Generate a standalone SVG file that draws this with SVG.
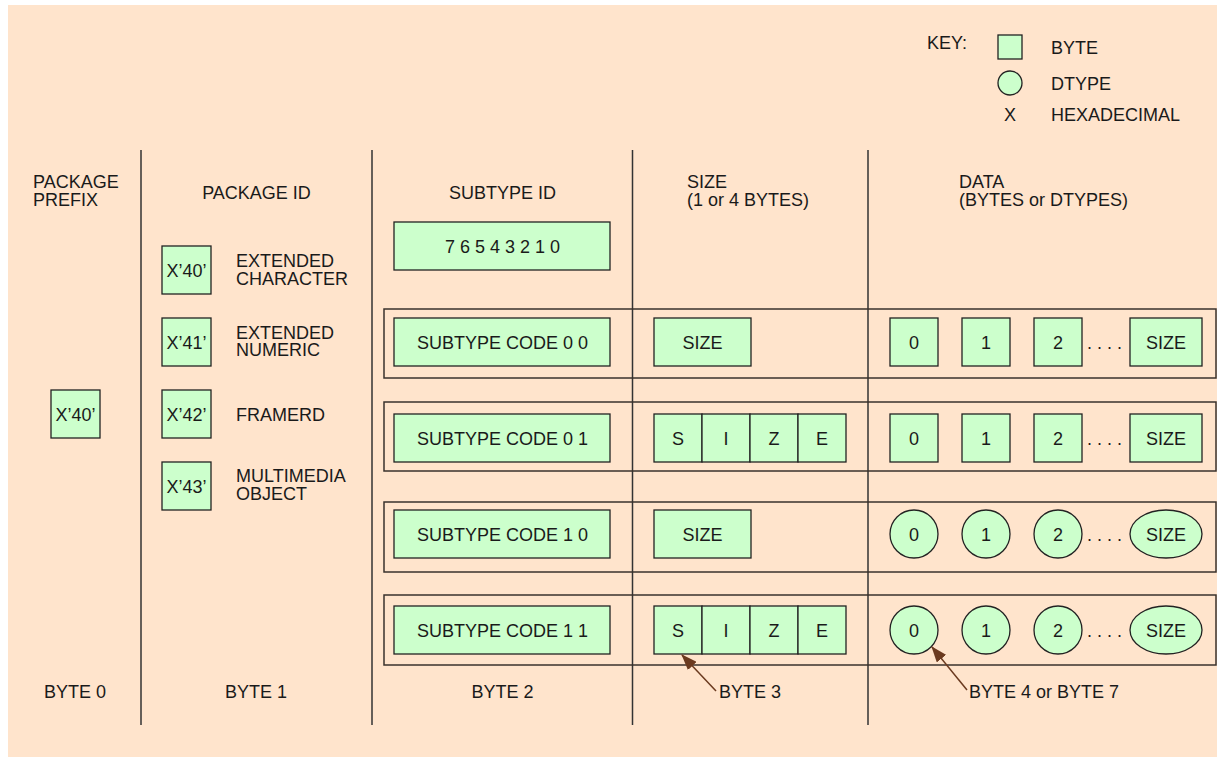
<svg xmlns="http://www.w3.org/2000/svg" width="1217" height="757" viewBox="0 0 1217 757">
<style>
.t{font-family:"Liberation Sans",Arial,sans-serif;font-size:18px;fill:#1a1a1a}
.c{text-anchor:middle}
.b{fill:#ccffcc;stroke:#222;stroke-width:1.3}
.f{fill:none;stroke:#3a322c;stroke-width:1.5}
.d{stroke:#333;stroke-width:1.5}
.a{stroke:#6b3a1f;stroke-width:1.5;fill:none;marker-end:url(#ah)}
</style>
<defs>
<marker id="ah" markerWidth="16" markerHeight="12" refX="15" refY="6" orient="auto" markerUnits="userSpaceOnUse">
<path d="M0,0 L16,6 L0,12 Z" fill="#6b3a1f"/>
</marker>
</defs>
<rect x="8" y="5" width="1209" height="752" fill="#ffe4cc"/>

<g id="key">
<text class="t" x="927" y="49">KEY:</text>
<rect class="b" x="998" y="35" width="24" height="24"/>
<text class="t" x="1051" y="54">BYTE</text>
<circle class="b" cx="1010" cy="83" r="12"/>
<text class="t" x="1051" y="90">DTYPE</text>
<text class="t c" x="1010" y="121">X</text>
<text class="t" x="1051" y="121">HEXADECIMAL</text>
</g>

<g id="dividers">
<line class="d" x1="141" y1="150" x2="141" y2="725"/>
<line class="d" x1="372" y1="150" x2="372" y2="725"/>
<line class="d" x1="632.5" y1="150" x2="632.5" y2="725" stroke="#111"/>
<line class="d" x1="868" y1="150" x2="868" y2="725" stroke="#111"/>
</g>

<g id="headers">
<text class="t" x="33" y="188">PACKAGE<tspan x="33" dy="17.5">PREFIX</tspan></text>
<text class="t c" x="256.5" y="199">PACKAGE ID</text>
<text class="t c" x="502.5" y="199">SUBTYPE ID</text>
<text class="t" x="687" y="188">SIZE<tspan x="687" dy="17.5">(1 or 4 BYTES)</tspan></text>
<text class="t" x="959" y="188">DATA<tspan x="959" dy="17.5">(BYTES or DTYPES)</tspan></text>
</g>

<g id="package-prefix">
<rect class="b" x="51" y="390" width="49" height="48"/>
<text class="t c" x="75.5" y="421">X’40’</text>
</g>

<g id="package-id-40">
<rect class="b" x="162" y="246" width="49" height="48"/>
<text class="t c" x="186.5" y="277">X’40’</text>
<text class="t" x="236" y="267">EXTENDED<tspan x="236" dy="17.5">CHARACTER</tspan></text>
</g>
<g id="package-id-41">
<rect class="b" x="162" y="318" width="49" height="48"/>
<text class="t c" x="186.5" y="349">X’41’</text>
<text class="t" x="236" y="338.5">EXTENDED<tspan x="236" dy="17.5">NUMERIC</tspan></text>
</g>
<g id="package-id-42">
<rect class="b" x="162" y="390" width="49" height="48"/>
<text class="t c" x="186.5" y="421">X’42’</text>
<text class="t" x="236" y="421">FRAMERD</text>
</g>
<g id="package-id-43">
<rect class="b" x="162" y="462" width="49" height="48"/>
<text class="t c" x="186.5" y="493">X’43’</text>
<text class="t" x="236" y="482">MULTIMEDIA<tspan x="236" dy="17.5">OBJECT</tspan></text>
</g>

<g id="subtype-id">
<rect class="b" x="394" y="222" width="216" height="48"/>
<text class="t c" x="502.5" y="253">7 6 5 4 3 2 1 0</text>
</g>

<g id="row-00">
<rect class="f" x="384" y="309" width="832" height="69"/>
<rect class="b" x="394" y="318" width="216" height="48"/>
<text class="t c" x="502.5" y="349">SUBTYPE CODE 0 0</text>
<rect class="b" x="654" y="318" width="97" height="48"/>
<text class="t c" x="702.5" y="349">SIZE</text>
<rect class="b" x="890" y="318" width="48" height="48"/>
<text class="t c" x="914" y="349">0</text>
<rect class="b" x="962" y="318" width="48" height="48"/>
<text class="t c" x="986" y="349">1</text>
<rect class="b" x="1034" y="318" width="48" height="48"/>
<text class="t c" x="1058" y="349">2</text>
<text class="t" x="1087" y="349">. . . .</text>
<rect class="b" x="1130" y="318" width="72" height="48"/>
<text class="t c" x="1166" y="349">SIZE</text>
</g>

<g id="row-01">
<rect class="f" x="384" y="402" width="832" height="69" stroke="#222"/>
<rect class="b" x="394" y="414" width="216" height="48"/>
<text class="t c" x="502.5" y="445">SUBTYPE CODE 0 1</text>
<rect class="b" x="654" y="414" width="48" height="48"/>
<rect class="b" x="702" y="414" width="48" height="48"/>
<rect class="b" x="750" y="414" width="48" height="48"/>
<rect class="b" x="798" y="414" width="48" height="48"/>
<text class="t c" x="678" y="445">S</text>
<text class="t c" x="726" y="445">I</text>
<text class="t c" x="774" y="445">Z</text>
<text class="t c" x="822" y="445">E</text>
<rect class="b" x="890" y="414" width="48" height="48"/>
<text class="t c" x="914" y="445">0</text>
<rect class="b" x="962" y="414" width="48" height="48"/>
<text class="t c" x="986" y="445">1</text>
<rect class="b" x="1034" y="414" width="48" height="48"/>
<text class="t c" x="1058" y="445">2</text>
<text class="t" x="1087" y="445">. . . .</text>
<rect class="b" x="1130" y="414" width="72" height="48"/>
<text class="t c" x="1166" y="445">SIZE</text>
</g>

<g id="row-10">
<rect class="f" x="384" y="502" width="832" height="70" stroke="#222"/>
<rect class="b" x="394" y="510" width="216" height="48"/>
<text class="t c" x="502.5" y="541">SUBTYPE CODE 1 0</text>
<rect class="b" x="654" y="510" width="97" height="48"/>
<text class="t c" x="702.5" y="541">SIZE</text>
<circle class="b" cx="914" cy="534" r="24"/>
<text class="t c" x="914" y="541">0</text>
<circle class="b" cx="986" cy="534" r="24"/>
<text class="t c" x="986" y="541">1</text>
<circle class="b" cx="1058" cy="534" r="24"/>
<text class="t c" x="1058" y="541">2</text>
<text class="t" x="1087" y="541">. . . .</text>
<ellipse class="b" cx="1166" cy="534" rx="36" ry="24"/>
<text class="t c" x="1166" y="541">SIZE</text>
</g>

<g id="row-11">
<rect class="f" x="384" y="595" width="832" height="70"/>
<rect class="b" x="394" y="606" width="216" height="48"/>
<text class="t c" x="502.5" y="637">SUBTYPE CODE 1 1</text>
<rect class="b" x="654" y="606" width="48" height="48"/>
<rect class="b" x="702" y="606" width="48" height="48"/>
<rect class="b" x="750" y="606" width="48" height="48"/>
<rect class="b" x="798" y="606" width="48" height="48"/>
<text class="t c" x="678" y="637">S</text>
<text class="t c" x="726" y="637">I</text>
<text class="t c" x="774" y="637">Z</text>
<text class="t c" x="822" y="637">E</text>
<circle class="b" cx="914" cy="630" r="24"/>
<text class="t c" x="914" y="637">0</text>
<circle class="b" cx="986" cy="630" r="24"/>
<text class="t c" x="986" y="637">1</text>
<circle class="b" cx="1058" cy="630" r="24"/>
<text class="t c" x="1058" y="637">2</text>
<text class="t" x="1087" y="637">. . . .</text>
<ellipse class="b" cx="1166" cy="630" rx="36" ry="24"/>
<text class="t c" x="1166" y="637">SIZE</text>
</g>

<g id="footers">
<text class="t c" x="75" y="698">BYTE 0</text>
<text class="t c" x="256" y="698">BYTE 1</text>
<text class="t c" x="502.5" y="698">BYTE 2</text>
<text class="t" x="719" y="698">BYTE 3</text>
<text class="t" x="969" y="698">BYTE 4 or BYTE 7</text>
</g>

<g id="connectors">
<line class="a" x1="716" y1="691" x2="682" y2="655"/>
<line class="a" x1="967" y1="690" x2="932" y2="647"/>
</g>
</svg>
